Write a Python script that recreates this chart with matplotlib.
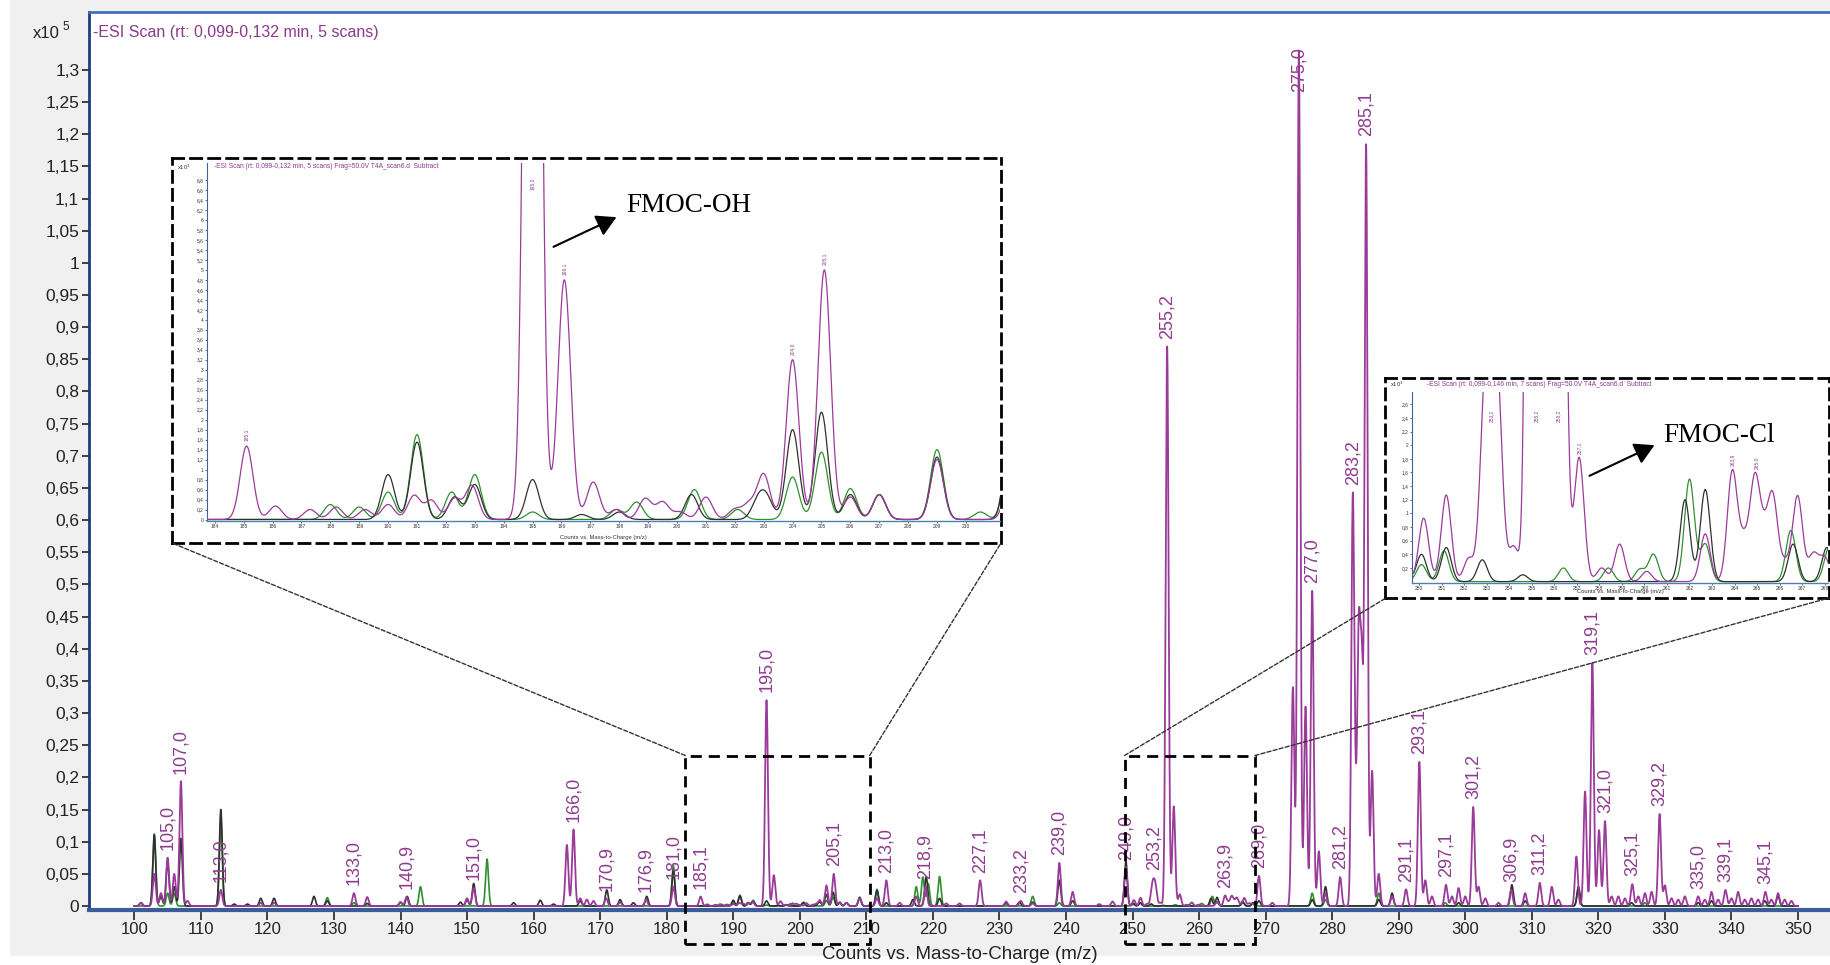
import numpy as np
import matplotlib.pyplot as plt
from matplotlib.patches import Rectangle, ConnectionPatch, FancyArrowPatch

plt.rcParams['font.family'] = ['Liberation Sans', 'DejaVu Sans']

W, H = 1831, 965
SIGMA = 0.22  # peak width used to draw the profile

# peak lists: m/z and intensity (counts x10^3)
purple_mz = [101.0, 103.0, 104.0, 105.0, 106.0, 107.0, 108.0, 113.0, 119.0, 121.0,
             133.0, 135.0, 140.0, 140.9, 150.0, 151.0, 165.0, 166.0, 167.0, 168.0,
             169.0, 170.9, 173.0, 176.9, 181.0,
             185.1, 186.1, 187.3, 188.2, 189.2, 190.0, 190.9, 191.5, 192.3, 192.9,
             195.0, 196.1, 197.1, 197.9, 198.9, 199.5, 200.1, 201.0, 202.0, 202.5,
             203.0, 204.0, 205.1, 206.0, 207.0, 209.0, 211.6,
             213.0, 215.0, 217.5, 218.9, 222.0, 224.0, 227.1, 231.0, 233.2, 235.0,
             239.0, 241.0, 245.0, 247.0, 249.0,
             250.2, 251.2, 252.2, 252.9, 253.2, 253.5, 254.2, 255.2, 256.2, 257.1,
             258.1, 258.9, 260.1, 262.7, 263.9, 264.4, 264.9, 265.3, 265.7, 266.25,
             266.8, 267.5, 268.0,
             269.0, 271.0, 274.1, 275.0, 276.0, 277.0, 278.0, 279.0, 281.2, 283.1,
             283.55, 284.0, 284.45, 285.1, 286.0, 287.0, 289.0, 291.1, 293.1, 294.0,
             295.0, 297.1, 298.0, 299.0, 300.0, 301.2, 302.0, 303.0, 305.0, 306.9,
             309.0, 311.2, 313.0, 314.0, 316.7, 318.0, 319.1, 320.1, 321.0, 322.0,
             323.0, 324.0, 325.1, 326.0, 327.0, 328.0, 329.2, 330.0, 331.0, 332.0,
             333.0, 335.0, 336.0, 337.0, 338.0, 339.1, 340.0, 341.0, 342.0, 343.0,
             344.0, 345.1, 346.0, 347.0, 348.0, 349.0]
purple_int = [0.5, 5.0, 2.0, 7.5, 5.0, 19.4, 0.8, 2.5, 0.5, 0.5,
              2.0, 1.4, 0.6, 1.4, 1.2, 2.8, 9.5, 11.9, 1.2, 1.0,
              0.8, 1.2, 0.6, 1.0, 3.0,
              1.47, 0.27, 0.2, 0.25, 0.2, 0.3, 0.48, 0.38, 0.42, 0.68,
              32.0, 4.8, 0.75, 0.2, 0.42, 0.35, 0.15, 0.45, 0.2, 0.3,
              0.9, 3.2, 5.0, 0.45, 0.5, 1.2, 1.2,
              4.0, 0.5, 1.5, 3.0, 0.4, 0.4, 4.0, 0.7, 0.8, 0.4,
              6.7, 2.2, 0.3, 0.7, 6.0,
              0.93, 1.27, 0.34, 2.2, 2.6, 2.2, 0.51, 87.0, 15.5, 1.82,
              0.2, 0.55, 0.15, 0.7, 1.6, 0.55, 1.45, 0.55, 1.2, 0.25,
              1.25, 0.4, 0.35,
              4.7, 0.5, 34.0, 133.0, 31.0, 49.0, 8.5, 2.0, 4.5, 63.0,
              10.0, 40.0, 35.0, 118.0, 21.0, 5.0, 1.5, 2.6, 22.4, 4.0,
              1.5, 3.3, 1.5, 2.8, 1.5, 15.4, 3.0, 1.2, 0.5, 2.5,
              2.0, 3.6, 3.0, 1.0, 7.7, 17.8, 37.8, 11.8, 13.2, 1.5,
              1.5, 1.2, 3.4, 1.5, 2.0, 2.2, 14.3, 3.2, 1.2, 1.0,
              1.5, 1.5, 1.0, 2.2, 1.0, 2.5, 1.2, 2.2, 1.0, 1.2,
              1.0, 2.2, 1.0, 2.0, 1.0, 0.8]

black_mz = [101.0, 103.0, 104.0, 105.0, 106.0, 107.0, 113.0, 115.0, 117.0, 119.0,
            121.0, 127.0, 129.0, 135.0, 140.0, 141.0, 149.0, 150.0, 151.0, 157.0,
            161.0, 163.0, 167.0, 171.0, 173.0, 175.0, 177.0, 181.0,
            190.0, 191.0, 192.3, 193.0, 195.0, 196.7, 198.0, 200.5, 202.8, 203.1,
            204.0, 205.0, 206.0, 207.0, 209.0, 211.6,
            213.0, 217.0, 219.0, 221.0, 231.0, 233.0, 235.0, 239.0, 241.0, 249.0,
            250.1, 251.2, 252.8, 254.6, 261.8, 262.7, 266.6, 268.1,
            269.0, 277.0, 279.0, 287.0, 289.0, 299.0, 307.0, 309.0, 317.0, 325.0,
            335.0, 337.0, 345.0, 347.0]
black_int = [0.5, 11.0, 1.5, 7.0, 3.0, 10.5, 15.0, 0.3, 0.3, 1.2,
             1.2, 1.5, 0.8, 0.4, 0.6, 1.5, 0.6, 1.0, 3.5, 0.5,
             0.9, 0.3, 0.8, 2.5, 1.0, 0.5, 1.5, 5.5,
             0.9, 1.55, 0.45, 0.7, 0.8, 0.1, 0.15, 0.5, 0.35, 0.4,
             1.8, 2.15, 0.5, 0.5, 1.25, 2.4,
             0.5, 1.0, 4.5, 1.2, 0.4, 0.6, 0.6, 4.0, 0.8, 7.0,
             0.4, 0.5, 0.32, 0.1, 1.2, 1.35, 0.55, 0.5,
             0.8, 1.0, 3.0, 1.0, 2.0, 0.5, 3.3, 0.8, 3.0, 0.5,
             0.5, 0.8, 0.8, 1.6]

green_mz = [103.0, 105.0, 106.0, 113.0, 129.0, 133.0, 143.0, 153.0, 181.0,
            188.0, 189.0, 190.0, 191.0, 192.2, 193.0, 195.0, 197.9, 198.6, 200.6,
            202.1, 204.0, 205.0, 206.0, 207.0, 209.0, 210.5, 211.6,
            217.5, 218.5, 219.3, 221.0, 235.0, 239.0,
            250.1, 251.1, 256.4, 258.4, 259.8, 260.4, 262.0, 262.7, 266.5, 268.2,
            277.0, 279.0, 287.0, 297.0, 317.0, 327.0]
green_int = [11.2, 2.0, 2.0, 13.5, 1.3, 0.5, 3.0, 7.3, 6.3,
             0.3, 0.25, 0.55, 1.7, 0.55, 0.9, 0.15, 0.2, 0.35, 0.6,
             0.2, 0.85, 1.35, 0.62, 0.5, 1.4, 0.15, 2.6,
             3.0, 4.5, 3.5, 4.6, 1.5, 0.5,
             0.25, 0.45, 0.2, 0.2, 0.18, 0.4, 1.5, 0.55, 0.75, 0.5,
             2.0, 1.0, 2.0, 0.5, 2.8, 0.5]

main_labels = [105.0, 107.0, 113.0, 133.0, 140.9, 151.0, 166.0, 170.9, 176.9, 181.0,
               185.1, 195.0, 205.1, 213.0, 218.9, 227.1, 233.2, 239.0, 249.0, 253.2,
               255.2, 263.9, 269.0, 275.0, 277.0, 281.2, 283.2, 285.1, 291.1, 293.1,
               297.1, 301.2, 306.9, 311.2, 319.1, 321.0, 325.1, 329.2, 335.0, 339.1,
               345.1]
inset1_labels = [185.1, 195.0, 196.1, 204.0, 205.1]
inset2_labels = [253.2, 255.2, 256.2, 257.1, 263.9, 265.0]
zoom_ranges = [(182.8, 210.5), (248.8, 268.4)]
scan_range = (100.0, 350.0)

main_xticks = list(range(100, 351, 10))
main_yticks = np.arange(0, 1.3001, 0.05)

PURPLE = '#9a3b9a'
BLACK = '#303030'
GREEN = '#2f8f2f'
LABEL_C = '#8e3c8e'


def fr(px, py):
    return px / W, 1 - py / H


def box(l, t, r, b):
    return [l / W, 1 - b / H, (r - l) / W, (b - t) / H]


def profile(mz, inten, x):
    y = np.zeros_like(x)
    for m, h in zip(mz, inten):
        y += h * np.exp(-0.5 * ((x - m) / SIGMA) ** 2)
    return y


def comma(v):
    return ('%g' % round(v, 2)).replace('.', ',')


def put_labels(ax, labels, x, y, top, off, labh, gap, size):
    for m in labels:
        sel = (x > m - 0.3) & (x < m + 0.3)
        peak = y[sel].max()
        txt = ('%.1f' % m).replace('.', ',')
        if peak + off + labh > top:
            ax.text(m, top - gap, txt, rotation=90, ha='center', va='top',
                    color=LABEL_C, fontsize=size, clip_on=True)
        else:
            ax.text(m, peak + off, txt, rotation=90, ha='center', va='bottom',
                    color=LABEL_C, fontsize=size)


x = np.linspace(scan_range[0], scan_range[1], 25001)
yp = profile(purple_mz, purple_int, x)
yk = profile(black_mz, black_int, x)
yg = profile(green_mz, green_int, x)

fig = plt.figure(figsize=(W / 100, H / 100), dpi=100)
fig.patch.set_facecolor('#f0f0f0')
fig.add_artist(Rectangle((0, 0), 9 / W, 1, transform=fig.transFigure,
                         color='white', zorder=-5))
fig.add_artist(Rectangle((0, 0), 1, 9 / H, transform=fig.transFigure,
                         color='white', zorder=-5))

# ---- main spectrum
ax = fig.add_axes(box(89, 12, 1831, 910))
ax.set_facecolor('white')
ax.plot(x, yg / 100, color=GREEN, lw=1.2, zorder=2)
ax.plot(x, yk / 100, color=BLACK, lw=1.2, zorder=3)
ax.plot(x, yp / 100, color=PURPLE, lw=1.3, zorder=4)
ax.set_xlim(93.19, 354.96)
ax.set_ylim(-0.0062, 1.390)
ax.set_xticks(main_xticks, [str(v) for v in main_xticks])
ax.set_yticks(main_yticks, [comma(v) for v in main_yticks])
ax.tick_params(axis='both', direction='out', colors='#222222', width=1.2, pad=2)
ax.tick_params(axis='y', length=5, labelsize=12.5)
ax.tick_params(axis='x', length=7, labelsize=12)
ax.spines['right'].set_visible(False)
ax.spines['top'].set_color('#3f6fc8')
ax.spines['top'].set_linewidth(2)
ax.spines['left'].set_color('#203a85')
ax.spines['left'].set_linewidth(2)
ax.spines['bottom'].set_color('#3b5b9a')
ax.spines['bottom'].set_linewidth(3)
ax.set_xlabel('Counts vs. Mass-to-Charge (m/z)', fontsize=13.5, color='#222222',
              labelpad=6)
fig.text(*fr(93, 33), '-ESI Scan (rt: 0,099-0,132 min, 5 scans)', ha='left',
         va='center', fontsize=11.5, color='#8a3a8a')
fig.text(*fr(33, 34), 'x10', ha='left', va='center', fontsize=12, color='#222222')
fig.text(*fr(62, 27), '5', ha='left', va='center', fontsize=8.5, color='#222222')

put_labels(ax, main_labels, x, yp / 100, 1.390, 0.012, 0.075, 0.055, 13)

# dashed zoom rectangles on the main axes
for x0, x1 in zoom_ranges:
    ax.add_patch(Rectangle((x0, -0.059), x1 - x0, 0.293, fill=False, ec='black',
                           ls=(0, (4, 2.5)), lw=2, clip_on=False, zorder=6))

# ---- inset boxes (dashed frame with white background)
for l, t, r, b in [(172, 158, 1001, 543), (1385, 378, 1829, 598)]:
    bx = fig.add_axes(box(l, t, r, b))
    bx.set_xticks([])
    bx.set_yticks([])
    bx.set_facecolor('white')
    for s in bx.spines.values():
        s.set_linestyle((0, (4, 2.5)))
        s.set_linewidth(2)
        s.set_color('black')


def inset(pos, xlim, ylim, xt, yt, labels, off, labh, gap, title, tx, ty, xl_y):
    ia = fig.add_axes(pos)
    ia.set_facecolor('white')
    sel = (x > xlim[0] - 1) & (x < xlim[1] + 1)
    ia.plot(x[sel], yg[sel], color=GREEN, lw=0.9)
    ia.plot(x[sel], yk[sel], color=BLACK, lw=0.9)
    ia.plot(x[sel], yp[sel], color=PURPLE, lw=0.9)
    ia.set_xlim(*xlim)
    ia.set_ylim(*ylim)
    ia.set_xticks(xt, [str(v) for v in xt])
    ia.set_yticks(yt, [comma(v) for v in yt])
    ia.tick_params(labelsize=3.5, length=1.5, width=0.5, pad=1, colors='#333333')
    for s in ('top', 'right'):
        ia.spines[s].set_visible(False)
    ia.spines['left'].set_color('#4060a0')
    ia.spines['left'].set_linewidth(0.8)
    ia.spines['bottom'].set_color('#5080b0')
    ia.spines['bottom'].set_linewidth(1)
    put_labels(ia, labels, x, yp, ylim[1], off, labh, gap, 3.5)
    fig.text(*fr(tx, ty), title, fontsize=4.8, color='#8a3a8a', va='center', ha='left')
    fig.text(*fr(tx - 37, ty), 'x10$^3$', fontsize=4.2, color='#333333', va='center',
             ha='left')
    l, b, w, h = pos
    fig.text(l + w / 2, 1 - xl_y / H, 'Counts vs. Mass-to-Charge (m/z)', fontsize=4.2,
             color='#333333', ha='center', va='center')
    return ia


inset(box(207, 163, 1000, 521), (183.73, 211.18), (-0.03, 7.14),
      list(range(184, 211)), np.arange(0, 6.81, 0.2), inset1_labels,
      0.1, 0.32, 0.3,
      '-ESI Scan (rt: 0,099-0,132 min, 5 scans) Frag=50.0V T4A_scan6.d  Subtract',
      214, 167, 538)
inset(box(1412, 392, 1828, 583), (249.68, 268.15), (-0.02, 2.78),
      list(range(250, 269)), np.arange(0.2, 2.61, 0.2), inset2_labels,
      0.05, 0.22, 0.26,
      '-ESI Scan (rt: 0,099-0,146 min, 7 scans) Frag=50.0V T4A_scan6.d  Subtract',
      1427, 384, 592)

# ---- connector lines
corners = [((zoom_ranges[0][0], 0.234), (172, 543)),
           ((zoom_ranges[0][1], 0.234), (1001, 543)),
           ((zoom_ranges[1][0], 0.234), (1386, 598)),
           ((zoom_ranges[1][1], 0.234), (1829, 598))]
for xyA, pB in corners:
    cp = ConnectionPatch(xyA=xyA, coordsA=ax.transData, xyB=fr(*pB),
                         coordsB=fig.transFigure, color='#333333', lw=1,
                         ls=(0, (3, 1.5)), zorder=7)
    fig.add_artist(cp)

# ---- arrows and compound names
for p0, p1, name, tp in [((551, 248), (619, 216), 'FMOC-OH', (626, 206)),
                         ((1587, 477), (1657, 444), 'FMOC-Cl', (1663, 436))]:
    fig.add_artist(FancyArrowPatch(fr(*p0), fr(*p1), transform=fig.transFigure,
                                   arrowstyle='-|>,head_length=0.8,head_width=0.45',
                                   mutation_scale=15, color='black', lw=1.5, zorder=8))
    fig.text(*fr(*tp), name, family=['Liberation Serif', 'DejaVu Serif'], fontsize=19.5,
             va='center', ha='left', color='black', zorder=8)

fig.savefig('out.png', dpi=100, facecolor=fig.get_facecolor())
